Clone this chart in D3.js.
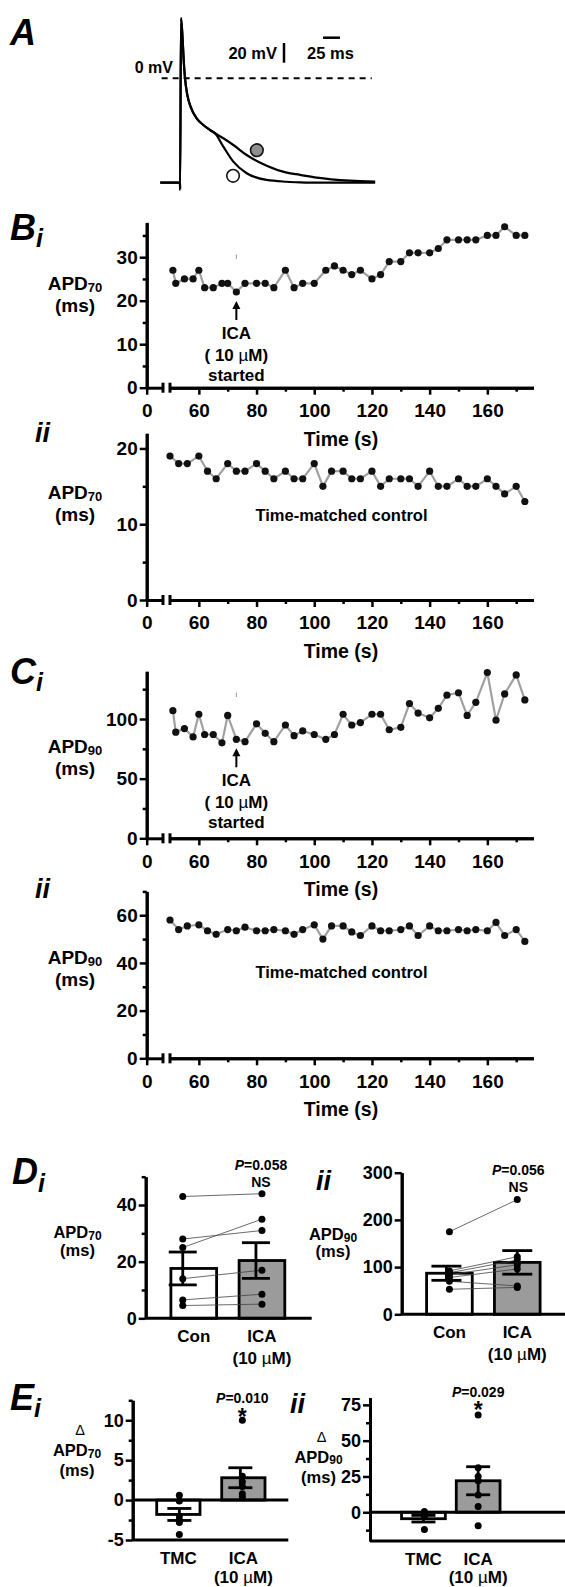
<!DOCTYPE html>
<html>
<head>
<meta charset="utf-8">
<title>ICA and APD</title>
<script src="https://d3js.org/d3.v7.min.js"></script>
<style>
  body { margin: 0; background: #fff; }
  svg { display: block; font-family: "Liberation Sans", Arial, Helvetica, sans-serif; font-weight: bold; }
</style>
</head>
<body>
<svg id="fig" width="565" height="1587"></svg>
<script>
// A: example action potentials (ms from upstroke, mV)
var apTime    = [-29, 0, 0.1, 1.5, 3.9, 5.4, 7.4, 10.8, 15.7, 24.5, 34.3, 44.1, 51.5, 63.7, 78.4, 98, 127.5, 157, 176.5, 201, 250, 287];
var apControl = [-106, -106, -113, 61, 39, 18.6, 0, -17, -29, -40.6, -47.4, -52.5, -55.8, -69.4, -84.6, -96.4, -103.2, -105, -105.6, -106, -106, -106];
var apIca     = [-106, -106, -113, 61, 39, 18.6, 0, -17, -29, -40.6, -47.4, -52.5, -55.8, -60.9, -67.7, -77.9, -88.7, -95.8, -98, -100.8, -103.9, -104.9];
var apMarkTime = [113, 78];   // grey = ICA, open = control
var apMarkVolt = [-73, -99];

// B i / C i: ICA started at 73 s
var icaTime = [51,52,55,58,60,62,65,68,70,73,76,80,83,86,90,93,96,100,104,107,110,113,116,120,123,126,130,133,136,140,143,146,150,153,156,160,163,166,170,173];
var icaApd70 = [27,24,25,25,27,23,23,24,24,22,24,24,24,23,27,23,24,24,27,28,27,26,27,25,26,29,29,31,31,31,32,34,34,34,34,35,35,37,35,35];
var icaApd90 = [107,89,92,85,104,87,87,80,103,83,81,96,88,81,95,86,90,87,83,87,104,95,97,104,104,91,93,113,105,101,109,120,122,103,114,139,99,121,137,116];

// B ii / C ii: time-matched control
var tmcTime = [50,53,56,60,63,66,70,73,76,80,83,86,90,93,96,100,103,106,110,113,116,120,123,126,130,133,136,140,143,146,150,153,156,160,163,166,170,173];
var tmcApd70 = [19,18,18,19,17,16,18,17,17,18,17,16,17,16,16,18,15,17,17,16,16,17,15,16,16,16,15,17,15,15,16,15,15,16,15,14,15,13];
var tmcApd90 = [58,54,55.5,56,53.5,52,54,53.5,55,53.5,53.5,54,53.5,52,54,56,50,55.5,55.5,53,51.5,55.5,53.5,53.5,54,55.5,51.5,55.5,53.5,53.5,54,53.5,54,53.5,57,51.5,54,49];

var timeTicks = [60, 80, 100, 120, 140, 160];
var timeMinor = [70, 90, 110, 130, 150, 170];
var biTicks = [0, 10, 20, 30],  biMinor = [5, 15, 25, 35];
var biiTicks = [0, 10, 20],     biiMinor = [5, 15];
var ciTicks = [0, 50, 100],     ciMinor = [25, 75, 125];
var ciiTicks = [0, 20, 40, 60], ciiMinor = [10, 30, 50, 70];

// D: paired cells, Con vs ICA
var dCats = ["Con", "ICA"];
var diCon = [43, 28, 25, 14, 6.5, 4.5];
var diIca = [44, 31, 35, 17, 8.5, 5];
var diMean = [17.6, 20.4], diSem = [5.8, 6.3];
var diiCon = [175, 92, 88, 84, 78, 70, 53];
var diiIca = [243, 122, 115, 105, 96, 60, 57];
var diiMean = [87, 110], diiSem = [15, 25];
var diTicks = [0, 20, 40],       diMinor = [10, 30, 50];
var diiTicks = [0, 100, 200, 300], diiMinor = [];

// E: change in APD, TMC vs ICA
var eCats = ["TMC", "ICA"];
var eiTmc = [0.6, -0.1, -2.0, -2.5, -2.8, -4.3];
var eiIca = [10, 3, 2.3, 1.7, 0.8, 0.4];
var eiMean = [-1.8, 2.8], eiSem = [0.75, 1.25];
var eiiTmc = [0.5, -2, -3, -12];
var eiiIca = [68, 31, 25, 22, 12, 4, -9.5];
var eiiMean = [-4.5, 22], eiiSem = [2.3, 9.8];
var eiTicks = [-5, 0, 5, 10],    eiMinor = [-2.5, 2.5, 7.5, 12.5];
var eiiTicks = [0, 25, 50, 75],  eiiMinor = [-12.5, 12.5, 37.5, 62.5];

var svg = d3.select("#fig");

function txt(x, y, s, size, anchor) {
  return svg.append("text").attr("x", x).attr("y", y)
    .attr("font-size", size).attr("text-anchor", anchor || "middle")
    .attr("dominant-baseline", "central").text(s);
}

function microText(x, y, pre, size) {
  var t = txt(x, y, "", size);
  t.append("tspan").text(pre);
  t.append("tspan").attr("font-weight", "normal").text("\u00b5");
  t.append("tspan").text("M)");
  return t;
}

function panelLetter(x, y, letter, sub, subY) {
  var t = svg.append("text").attr("x", x).attr("y", y)
    .attr("font-size", 36).attr("font-style", "italic").text(letter);
  if (sub) t.append("tspan").attr("font-size", 25).attr("dy", subY).text(sub);
}

function romanLabel(x, y, s) {
  svg.append("text").attr("x", x).attr("y", y).attr("font-size", 27)
    .attr("font-style", "italic").text(s);
}

function apdLabel(cx, cy, sub, size, gap, delta) {
  if (delta) {
    txt(cx + 3, cy - gap, "\u0394", size - 2).attr("font-weight", "normal");
  }
  var t = txt(cx, cy, "", size);
  t.append("tspan").text("APD");
  t.append("tspan").attr("font-size", Math.round(size * 0.7)).attr("dy", size * 0.22).text(sub);
  txt(cx, cy + gap, "(ms)", size);
}

function styleAxis(g, size) {
  g.attr("font-family", null).attr("font-size", null);
  g.selectAll(".domain").attr("stroke", "#000").attr("stroke-width", 3);
  g.selectAll(".tick line").attr("stroke", "#000").attr("stroke-width", 2.5);
  g.selectAll(".tick text").attr("fill", "#000").attr("font-size", size);
}

function plain(d) { return String(d); }

function yAxis(x, y, major, minor, size) {
  var g = svg.append("g").attr("transform", "translate(" + x + ",0)");
  g.append("g").call(d3.axisLeft(y).tickValues(minor).tickSize(4).tickSizeOuter(0).tickFormat(""));
  g.append("g").call(d3.axisLeft(y).tickValues(major).tickSize(7).tickSizeOuter(0)
    .tickPadding(2).tickFormat(plain));
  styleAxis(g, size);
}

// ---------- A ----------
var xA = d3.scaleLinear().domain([0, 25]).range([180, 197]);
var yA = d3.scaleLinear().domain([0, 20]).range([78.3, 58.6]);

panelLetter(10, 45, "A");

svg.append("line")
  .attr("x1", xA(-27)).attr("x2", xA(282)).attr("y1", yA(0)).attr("y2", yA(0))
  .attr("stroke", "#000").attr("stroke-width", 2).attr("stroke-dasharray", "6,5");
txt(173, 67, "0 mV", 16, "end");

var apLine = d3.line()
  .x(function(d) { return xA(d[0]); })
  .y(function(d) { return yA(d[1]); })
  .curve(d3.curveMonotoneX);

[apIca, apControl].forEach(function(v) {
  svg.append("path").attr("d", apLine(d3.zip(apTime, v)))
    .attr("fill", "none").attr("stroke", "#000").attr("stroke-width", 2.2);
});

svg.selectAll(".apMark").data(apMarkTime).enter().append("circle")
  .attr("cx", function(d) { return xA(d); })
  .attr("cy", function(d, i) { return yA(apMarkVolt[i]); })
  .attr("r", 6.3)
  .attr("fill", function(d, i) { return i === 0 ? "#8f8f8f" : "#fff"; })
  .attr("stroke", "#111").attr("stroke-width", 1.6);

// scale bars
svg.append("line").attr("x1", 284).attr("x2", 284).attr("y1", 62.7).attr("y2", 62.7 - (yA(0) - yA(20)))
  .attr("stroke", "#000").attr("stroke-width", 2.5);
svg.append("line").attr("x1", 323).attr("x2", 323 + xA(25) - xA(0)).attr("y1", 37.7).attr("y2", 37.7)
  .attr("stroke", "#000").attr("stroke-width", 2.5);
txt(277, 53, "20 mV", 16.5, "end");
txt(330.5, 53, "25 ms", 16.5);

// ---------- B / C time courses ----------
var X_LEFT = 146.7;
var xZero = d3.scaleLinear().domain([0, 5.5]).range([X_LEFT, 163]);
var xTime = d3.scaleLinear().domain([50, 176]).range([170, 533.5]);

function timePanel(p, times, values) {
  var y = d3.scaleLinear().domain(p.yDomain).range([p.yBottom, p.yTop]);

  yAxis(X_LEFT, y, p.major, p.minor, 19);

  var gx = svg.append("g").attr("transform", "translate(0," + p.yBottom + ")");
  gx.append("g").call(d3.axisBottom(xZero).tickValues([0]).tickSize(7).tickSizeOuter(0)
    .tickPadding(9).tickFormat(plain));
  gx.append("g").call(d3.axisBottom(xTime).tickValues(timeMinor).tickSize(4).tickSizeOuter(0).tickFormat(""));
  gx.append("g").call(d3.axisBottom(xTime).tickValues(timeTicks).tickSize(7).tickSizeOuter(0)
    .tickPadding(9).tickFormat(plain));
  styleAxis(gx, 19);
  gx.selectAll(".brk").data([xZero.range()[1], xTime.range()[0]]).enter().append("line")
    .attr("x1", function(d) { return d; }).attr("x2", function(d) { return d; })
    .attr("y1", -5).attr("y2", 5).attr("stroke", "#000").attr("stroke-width", 3);

  txt(341, p.yBottom + 51, "Time (s)", 19.5);
  apdLabel(75, p.labelY, p.sub, 19, 22);

  var pts = d3.zip(times, values);
  var line = d3.line()
    .x(function(d) { return xTime(d[0]); })
    .y(function(d) { return y(d[1]); });
  svg.append("path").attr("d", line(pts)).attr("fill", "none")
    .attr("stroke", "#a0a0a0").attr("stroke-width", 2.2);
  svg.append("g").selectAll("circle").data(pts).enter().append("circle")
    .attr("cx", function(d) { return xTime(d[0]); })
    .attr("cy", function(d) { return y(d[1]); })
    .attr("r", 3.6).attr("fill", "#111");
  return y;
}

function icaNote(y, times, values, t, markY) {
  var v = values[times.indexOf(t)];
  var x = xTime(t), tip = y(v) + 9;
  svg.append("line").attr("x1", x).attr("x2", x).attr("y1", tip + 5).attr("y2", tip + 19)
    .attr("stroke", "#000").attr("stroke-width", 2);
  svg.append("path").attr("d", "M" + (x - 4) + "," + (tip + 8) + "L" + x + "," + tip + "L" + (x + 4) + "," + (tip + 8) + "Z")
    .attr("fill", "#000");
  txt(x, tip + 32, "ICA", 17);
  microText(x, tip + 54, "( 10 ", 17);
  txt(x, tip + 74, "started", 17);
  svg.append("line").attr("x1", x).attr("x2", x).attr("y1", markY).attr("y2", markY + 4.5)
    .attr("stroke", "#999").attr("stroke-width", 1);
}

panelLetter(10, 240, "B", "i", 7);
var yBi = timePanel({yDomain: [0, 38], yBottom: 387.7, yTop: 222.4, major: biTicks, minor: biMinor, sub: "70", labelY: 283},
  icaTime, icaApd70);
icaNote(yBi, icaTime, icaApd70, 73, 254.5);

romanLabel(35, 442, "ii");
timePanel({yDomain: [0, 22], yBottom: 600, yTop: 433.3, major: biiTicks, minor: biiMinor, sub: "70", labelY: 492},
  tmcTime, tmcApd70);
txt(341.5, 515, "Time-matched control", 16.5);

panelLetter(10, 684, "C", "i", 7);
var yCi = timePanel({yDomain: [0, 140], yBottom: 838.3, yTop: 671.3, major: ciTicks, minor: ciMinor, sub: "90", labelY: 746},
  icaTime, icaApd90);
icaNote(yCi, icaTime, icaApd90, 73, 692.5);

romanLabel(35, 898, "ii");
timePanel({yDomain: [0, 70], yBottom: 1058.3, yTop: 891.4, major: ciiTicks, minor: ciiMinor, sub: "90", labelY: 957},
  tmcTime, tmcApd90);
txt(341.5, 971.7, "Time-matched control", 16.5);

// ---------- D / E bar panels ----------
var barFill = ["#fff", "#9b9b9b"];

function barPanel(p, cats, means, sems, groups, paired) {
  var y = d3.scaleLinear().domain(p.yDomain).range([p.yBottom, p.yTop]);
  var x = d3.scaleBand().domain(cats).range(p.band).padding(p.pad);
  var bw = x.bandwidth();
  function cx(i) { return x(cats[i]) + bw / 2; }

  svg.append("g").selectAll("rect").data(cats).enter().append("rect")
    .attr("x", function(d) { return x(d); }).attr("width", bw)
    .attr("y", function(d, i) { return Math.min(y(0), y(means[i])); })
    .attr("height", function(d, i) { return Math.abs(y(0) - y(means[i])); })
    .attr("fill", function(d, i) { return barFill[i]; })
    .attr("stroke", "#000").attr("stroke-width", 2.8);

  yAxis(p.axisX, y, p.major, p.minor, 18);
  var lines = [0];
  if (p.yDomain[0] < 0) lines.push(p.yDomain[0]);
  lines.forEach(function(v) {
    svg.append("line").attr("x1", p.axisX).attr("x2", p.xEnd).attr("y1", y(v)).attr("y2", y(v))
      .attr("stroke", "#000").attr("stroke-width", 3);
  });

  if (paired) {
    svg.append("g").selectAll("line").data(groups[0]).enter().append("line")
      .attr("x1", cx(0) + p.dotShift[0]).attr("x2", cx(1) + p.dotShift[1])
      .attr("y1", function(d) { return y(d); })
      .attr("y2", function(d, i) { return y(groups[1][i]); })
      .attr("stroke", "#444").attr("stroke-width", 0.8);
  }

  groups.forEach(function(vals, gi) {
    svg.append("g").selectAll("circle").data(vals).enter().append("circle")
      .attr("cx", cx(gi) + p.dotShift[gi])
      .attr("cy", function(d) { return y(d); })
      .attr("r", 3.5).attr("fill", "#000");
  });

  means.forEach(function(m, i) {
    var ex = cx(i) + p.errShift[i];
    var hi = y(m + sems[i]), lo = y(m - sems[i]);
    var g = svg.append("g").attr("stroke", "#000").attr("stroke-width", 2.8);
    g.append("line").attr("x1", ex).attr("x2", ex).attr("y1", hi).attr("y2", lo);
    g.append("line").attr("x1", ex - p.cap).attr("x2", ex + p.cap).attr("y1", hi).attr("y2", hi);
    g.append("line").attr("x1", ex - p.cap).attr("x2", ex + p.cap).attr("y1", lo).attr("y2", lo);
  });

  cats.forEach(function(c, i) {
    txt(cx(i), y(p.yDomain[0]) + 18.5, c, 17);
  });
  microText(cx(1), y(p.yDomain[0]) + p.line2, "(10 ", 17);

  var pt = txt(cx(1) + p.statShift, p.pY, "", 14);
  pt.append("tspan").attr("font-style", "italic").text("P");
  pt.append("tspan").text(p.pText);
  if (p.mark === "*") {
    svg.append("text").attr("x", cx(1) + p.statShift).attr("y", p.markY + 13).attr("text-anchor", "middle")
      .attr("font-size", 23).text("*");
  } else {
    txt(cx(1) + p.statShift, p.markY, p.mark, 14);
  }
}

panelLetter(12, 1184, "D", "i", 8);
barPanel({axisX: 145.7, xEnd: 311.7, yDomain: [0, 50], yBottom: 1318.3, yTop: 1176.7,
  major: diTicks, minor: diMinor, band: [148.4, 307.3], pad: 0.33,
  dotShift: [-11, 0], errShift: [-11, -6], cap: 14, statShift: -1, line2: 40,
  pY: 1165, pText: "=0.058", mark: "NS", markY: 1181.7},
  dCats, diMean, diSem, [diCon, diIca], true);
apdLabel(77.5, 1232, "70", 16.5, 18);

romanLabel(316, 1190, "ii");
barPanel({axisX: 401.7, xEnd: 565, yDomain: [0, 300], yBottom: 1314.3, yTop: 1172.7,
  major: diiTicks, minor: diiMinor, band: [404.4, 562.3], pad: 0.327,
  dotShift: [0, 0], errShift: [-3, 0], cap: 15, statShift: 1, line2: 40,
  pY: 1170, pText: "=0.056", mark: "NS", markY: 1187.3},
  dCats, diiMean, diiSem, [diiCon, diiIca], true);
apdLabel(333, 1234, "90", 16.5, 17);

panelLetter(10, 1410, "E", "i", 7);
barPanel({axisX: 132.7, xEnd: 288.3, yDomain: [-5, 12.5], yBottom: 1540, yTop: 1400.3,
  major: eiTicks, minor: eiMinor, band: [135, 286.7], pad: 0.334,
  dotShift: [1, -1], errShift: [1, -3], cap: 12, statShift: -1, line2: 37,
  pY: 1398.3, pText: "=0.010", mark: "*", markY: 1411.7},
  eCats, eiMean, eiSem, [eiTmc, eiIca], false);
apdLabel(77, 1450, "70", 16.5, 20, true);

romanLabel(290, 1413, "ii");
barPanel({axisX: 370, xEnd: 565, yDomain: [-20, 80], yBottom: 1540.9, yTop: 1397.7,
  major: eiiTicks, minor: eiiMinor, band: [390.6, 511], pad: 0.2,
  dotShift: [1, 0], errShift: [0, 0], cap: 12, statShift: 0, line2: 36,
  pY: 1391.7, pText: "=0.029", mark: "*", markY: 1405},
  eCats, eiiMean, eiiSem, [eiiTmc, eiiIca], false);
apdLabel(318.5, 1456.7, "90", 16.5, 20, true);
</script>
</body>
</html>
